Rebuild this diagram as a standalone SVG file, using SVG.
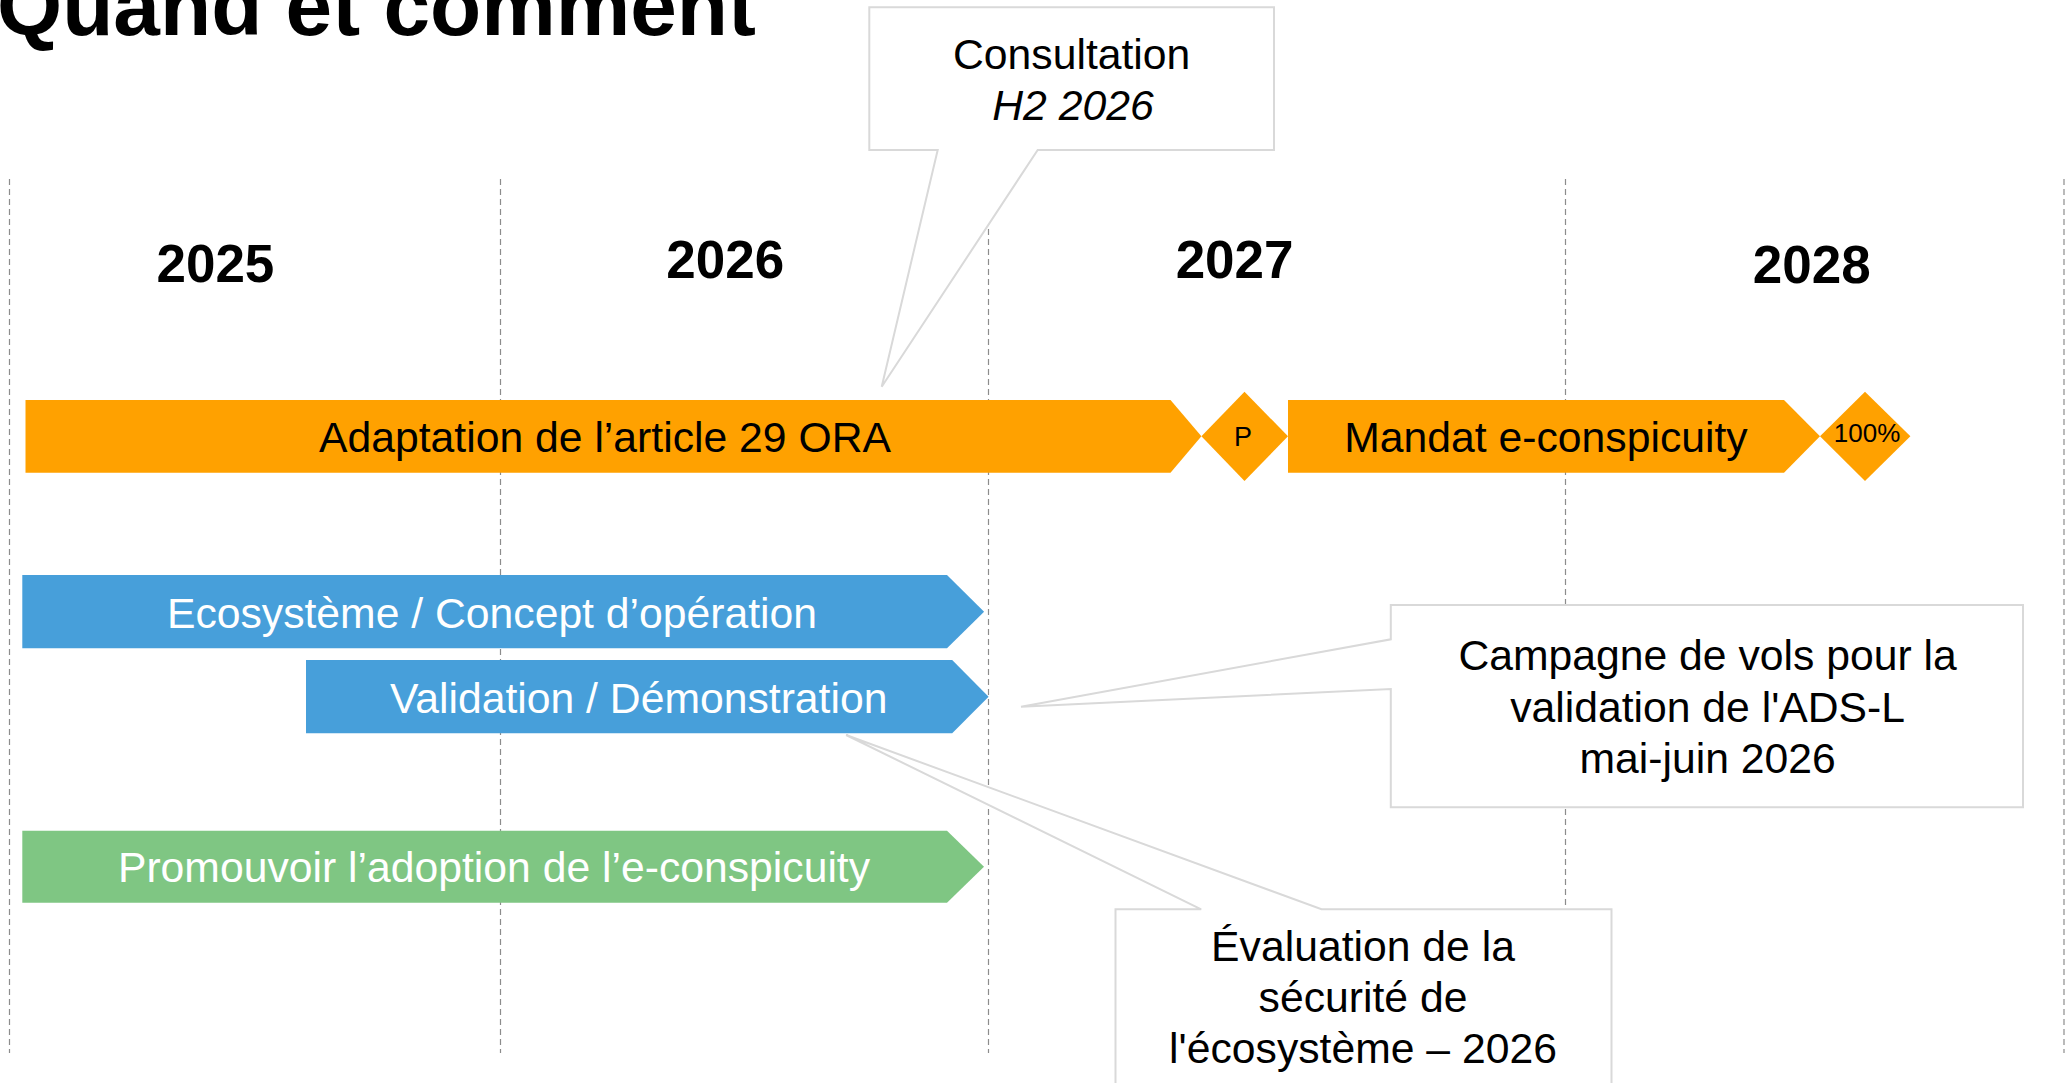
<svg xmlns="http://www.w3.org/2000/svg" width="2066" height="1083" viewBox="0 0 2066 1083">
<style>
.grid{stroke:#8C8C8C;stroke-width:1.2;stroke-dasharray:6 4;fill:none}
.t{font-family:"Liberation Sans",Arial,sans-serif}
.title{font-size:83.8px;font-weight:bold;fill:#000}
.year{font-size:53px;font-weight:bold;fill:#000;text-anchor:middle}
.lbl{font-size:42.7px;text-anchor:middle}
.dark{fill:#000}
.light{fill:#FFFFFF}
.orange{fill:#FFA100}
.blue{fill:#479FDA}
.green{fill:#7FC683}
.callout{fill:#FFFFFF;stroke:#D9D9D9;stroke-width:2}
</style>
<rect width="2066" height="1083" fill="#FFFFFF"/>
<g id="grid">
<line class="grid" x1="9.5" y1="179" x2="9.5" y2="1053"/>
<line class="grid" x1="500.5" y1="179" x2="500.5" y2="1053"/>
<line class="grid" x1="988.5" y1="179" x2="988.5" y2="1053"/>
<line class="grid" x1="1565.5" y1="179" x2="1565.5" y2="1053"/>
<line class="grid" x1="2064" y1="179" x2="2064" y2="1053"/>
</g>
<text class="t title" x="-3" y="35">Quand et comment</text>
<g id="years">
<text class="t year" x="215.4" y="282">2025</text>
<text class="t year" x="725.3" y="278">2026</text>
<text class="t year" x="1234.6" y="278">2027</text>
<text class="t year" x="1811.7" y="283">2028</text>
</g>
<g id="adaptation">
<path class="orange" d="M25.5,400 H1170.5 L1201.4,436.3 L1170.5,472.7 H25.5 Z"/>
<text class="t lbl dark" x="605" y="452">Adaptation de l’article 29 ORA</text>
</g>
<g id="milestone-p">
<polygon class="orange" points="1201.4,436.3 1244.5,391.7 1288,436.3 1244.5,481"/>
<text class="t dark" x="1243" y="446" font-size="27" text-anchor="middle">P</text>
</g>
<g id="mandat">
<path class="orange" d="M1288,400 H1784 L1820,436.3 L1784,472.7 H1288 Z"/>
<text class="t lbl dark" x="1546" y="451.7">Mandat e-conspicuity</text>
</g>
<g id="milestone-100">
<polygon class="orange" points="1820,436.3 1865,391.7 1910.4,436.3 1865,481"/>
<text class="t dark" x="1867" y="441.7" font-size="26" text-anchor="middle">100%</text>
</g>
<g id="ecosysteme">
<path class="blue" d="M22.3,575 H947 L984.1,611.7 L947,648.3 H22.3 Z"/>
<text class="t lbl light" x="492" y="628.3">Ecosystème / Concept d’opération</text>
</g>
<g id="validation">
<path class="blue" d="M306,660 H952.2 L988.6,696.7 L952.2,733.3 H306 Z"/>
<text class="t lbl light" x="638.7" y="712.7">Validation / Démonstration</text>
</g>
<g id="promouvoir">
<path class="green" d="M22.3,830.7 H947 L984,866.7 L947,902.7 H22.3 Z"/>
<text class="t lbl light" x="494" y="881.7">Promouvoir l’adoption de l’e-conspicuity</text>
</g>
<g id="callout-consultation">
<path class="callout" d="M869.3,7.3 H1274 V150 H1037.7 L881.7,386.7 L937.7,150 H869.3 Z"/>
<text class="t lbl dark" x="1071.7" y="69.3">Consultation</text>
<text class="t lbl dark" x="1073" y="120" font-style="italic">H2 2026</text>
</g>
<g id="callout-campagne">
<path class="callout" d="M1390.8,605 H2023 V807.3 H1390.8 V689 L1021,706.7 L1390.8,639.3 Z"/>
<text class="t lbl dark" x="1707.6" y="670">Campagne de vols pour la</text>
<text class="t lbl dark" x="1707.6" y="721.7">validation de l'ADS-L</text>
<text class="t lbl dark" x="1707.6" y="772.7">mai-juin 2026</text>
</g>
<g id="callout-evaluation">
<path class="callout" d="M1115.5,909.3 H1201.2 L846.1,735 L1321.5,909.3 H1611.5 V1095 H1115.5 Z"/>
<text class="t lbl dark" x="1363" y="960.7">Évaluation de la</text>
<text class="t lbl dark" x="1363" y="1011.7">sécurité de</text>
<text class="t lbl dark" x="1363" y="1063.3">l'écosystème – 2026</text>
</g>
</svg>
